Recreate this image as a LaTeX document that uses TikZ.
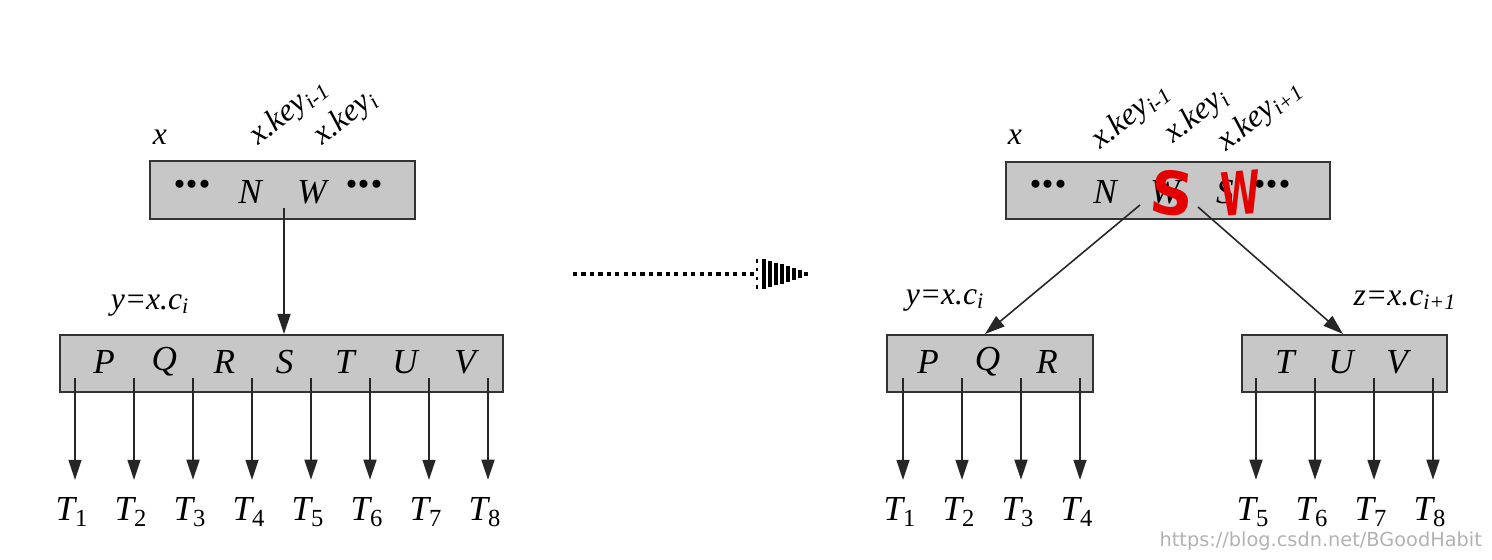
\documentclass[tikz,border=0pt]{standalone}
\usepackage{fontspec}
\setmainfont{Liberation Serif}
\setsansfont{DejaVu Sans}
\usetikzlibrary{arrows.meta, positioning, calc}
\newcommand{\idx}[1]{\textsubscript{#1}}
\newcommand{\kdots}{\raisebox{-0.12em}{\fontsize{28}{28}\selectfont\textbf{\textperiodcentered\textperiodcentered\textperiodcentered}}}
\begin{document}
\begin{tikzpicture}[x=0.02cm, y=-0.02cm,
	font=\fontsize{19}{22}\selectfont,
	keybox/.style={draw=black!80, line width=1.2pt, fill=black!22, inner sep=0pt},
	keytext/.style={font=\fontsize{20}{22}\selectfont\itshape, inner sep=1pt},
	lbl/.style={font=\fontsize{18}{20}\selectfont\itshape, inner sep=0pt},
	arr/.style={-{Triangle[length=4mm,width=2.6mm]}, line width=0.9pt, black!85},
	redpen/.style={text=red!90!black, font=\fontsize{34}{36}\selectfont\sffamily\bfseries, inner sep=0pt}]
	\useasboundingbox (0,0) rectangle (1492,560);
	% before the split
	\node[keybox, minimum width=5.3cm, minimum height=1.16cm] (xl) at (282.5,190) {};
	\node[keytext] (xl0) at (192,190) {\kdots};
	\node[keytext] (xl1) at (250,192) {N};
	\node[keytext] (xl2) at (312,192) {W};
	\node[keytext] (xl3) at (364,190) {\kdots};
	\node[lbl] (xln) at (160,137) {x};
	\node[lbl, rotate=38, anchor=base west] (xlk1) at (258,146) {x.key\idx{i-1}};
	\node[lbl, rotate=38, anchor=base west] (xlk2) at (322,146) {x.key\idx{i}};
	\node[keybox, minimum width=8.86cm, minimum height=1.14cm] (yl) at (281.5,363.5) {};
	\node[lbl] (yln) at (150,305) {y=x.c\idx{i}};
	\foreach \c [count=\i] in {P,Q,R,S,T,U,V}
		\node[keytext] (ylk\i) at ({104+60.2*(\i-1)},362) {\c};
	\coordinate (xa) at (284,208);
	\draw[arr] (xa) -- (xa |- yl.north);
	\foreach \i in {1,...,8}{
		\coordinate (ya\i) at ({75+59*(\i-1)},378);
		\node[keytext] (tl\i) at ({72+59*(\i-1)},512) {T\idx{\upshape\i}};
		\draw[arr] (ya\i) -- ([yshift=9pt]ya\i |- tl\i.north);
	}

	% dotted arrow
	\coordinate (mvs) at (573,274);
	\coordinate (mve) at (756,274);
	\draw[line width=2.6pt, dash pattern=on 2.4pt off 2.4pt] (mvs) -- (mve);
	\draw[line width=1.4pt, dash pattern=on 2pt off 3pt] (757,259) -- (757,290);
	\foreach \k in {0,...,7}
		\draw[line width=1.9pt] ({764+6*\k},{274-15*(1-\k/8.2)}) -- ({764+6*\k},{274+15*(1-\k/8.2)});

	% after the split
	\node[keybox, minimum width=6.48cm, minimum height=1.14cm] (xr) at (1168,190.5) {};
	\node[keytext] (xr0) at (1048,190) {\kdots};
	\node[keytext] (xr1) at (1105,192) {N};
	\node[keytext] (xr2) at (1165,192) {W};
	\node[keytext] (xr3) at (1225,192) {S};
	\node[keytext] (xr4) at (1272,190) {\kdots};
	\node[redpen, rotate=-6] (xrs) at (1172,193) {S};
	\node[redpen, xscale=0.6, rotate=3] (xrw) at (1241,193) {W};
	\node[lbl] (xrn) at (1015,137) {x};
	\node[lbl, rotate=38, anchor=base west] (xrk1) at (1100,150) {x.key\idx{i-1}};
	\node[lbl, rotate=38, anchor=base west] (xrk2) at (1173,144) {x.key\idx{i}};
	\node[lbl, rotate=38, anchor=base west] (xrk3) at (1226,152) {x.key\idx{i+1}};
	\node[keybox, minimum width=4.12cm, minimum height=1.14cm] (yr) at (990,363.5) {};
	\node[keybox, minimum width=4.1cm, minimum height=1.14cm] (zr) at (1344.5,363.5) {};
	\node[lbl] (yrn) at (945,300) {y=x.c\idx{i}};
	\node[lbl] (zrn) at (1405,300) {z=x.c\idx{i+1}};
	\foreach \c [count=\i] in {P,Q,R}
		\node[keytext] (yrk\i) at ({928+59.5*(\i-1)},362) {\c};
	\foreach \c [count=\i] in {T,U,V}
		\node[keytext] (zrk\i) at ({1285+56*(\i-1)},362) {\c};
	\coordinate (xb) at (1140,205);
	\coordinate (xc) at (1198,207);
	\draw[arr] (xb) -- (985,334);
	\draw[arr] (xc) -- (1343,334);
	\foreach \i in {1,...,4}{
		\coordinate (yb\i) at ({903+59*(\i-1)},378);
		\node[keytext] (tr\i) at ({900+59*(\i-1)},512) {T\idx{\upshape\i}};
		\draw[arr] (yb\i) -- ([yshift=9pt]yb\i |- tr\i.north);
		\coordinate (zb\i) at ({1256+59*(\i-1)},378);
		\pgfmathtruncatemacro{\j}{\i+4}
		\node[keytext] (tz\i) at ({1253+59*(\i-1)},512) {T\idx{\upshape\j}};
		\draw[arr] (zb\i) -- ([yshift=9pt]zb\i |- tz\i.north);
	}
	\node[text=black!30, font=\fontsize{11}{12}\selectfont\sffamily, anchor=east] (wm) at (1488,541) {https://blog.csdn.net/BGoodHabit};
\end{tikzpicture}
\end{document}
